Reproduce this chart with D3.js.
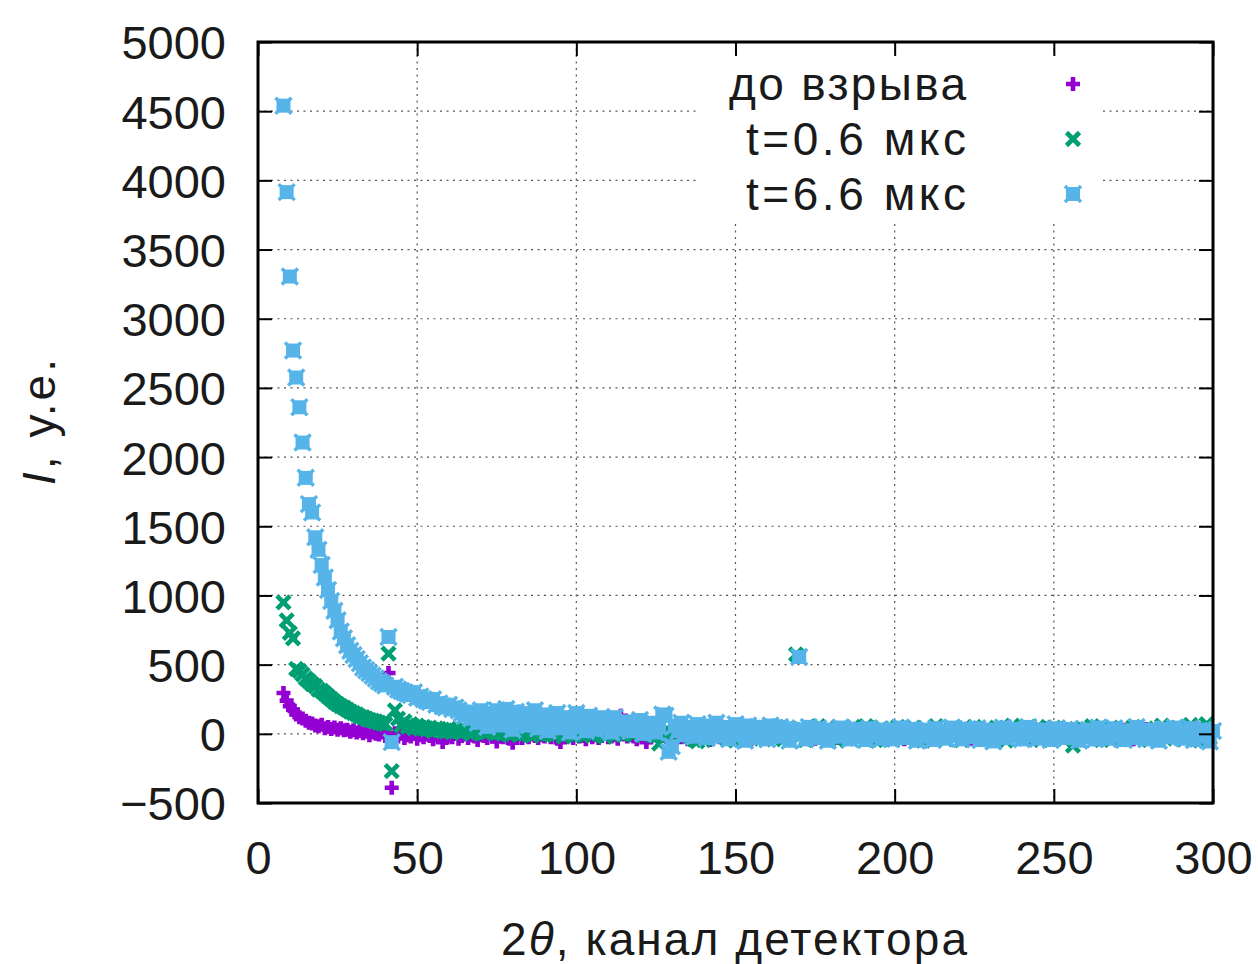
<!DOCTYPE html>
<html>
<head>
<meta charset="utf-8">
<script src="https://cdn.jsdelivr.net/npm/d3@7"></script>
<style>
  body { margin: 0; background: #fff; }
  svg text { font-family: "Liberation Sans", Arial, sans-serif; fill: #1a1a1a; }
</style>
</head>
<body>
<svg id="chart" width="1258" height="964"></svg>
<script>
const MARGIN = { top: 42, right: 45, bottom: 161, left: 258 };
const WIDTH = 1258;
const HEIGHT = 964;

// first detector channel of every series, next values go one channel up
const firstChannel = 8;

const xTicks = [0, 50, 100, 150, 200, 250, 300];
const yTicks = [-500, 0, 500, 1000, 1500, 2000, 2500, 3000, 3500, 4000, 4500, 5000];

const seriesNames = ["до взрыва", "t=0.6 мкс", "t=6.6 мкс"];
const seriesColors = ["#9400d3", "#009e73", "#56b4e9"];

// до взрыва (channels 8..299)
const beforeBlast = [
  295, 240, 200, 175, 140, 120, 110, 95, 80, 75,
  60, 55, 65, 40, 50, 35, 45, 30, 40, 25,
  30, 15, 25, 10, 20, 5, 15, -10, 10, 0,
  -5, 10, -15, 440, -390, 5, -20, 0, -30, -10,
  -20, 5, -35, -10, -25, 0, -15, -40, -5, -20,
  -60, -30, -10, -25, 0, -35, -15, -5, -30, -10,
  -20, -45, -5, -15, -30, 0, -20, -55, -10, -25,
  -5, -35, -65, -20, 0, -30, -10, -25, -5, -15,
  -30, -10, -20, 0, -25, -5, -35, -60, -15, -20,
  -10, -30, 0, -20, -15, -40, -5, -25, -10, -30,
  -15, 0, -25, -20, -10, -35, 130, -5, -20, -10,
  -20, -40, -5, -15, -60, -25, -10, 0, -30, -15,
  -5, -20, -35, -10, 0, -25, -15, -40, -5, -20,
  -10, -30, 0, -20, -45, -5, -15, -25, 10, -10,
  -30, 20, 0, -20, 30, -10, 10, -35, 15, -5,
  25, -15, 5, -30, 20, 0, -25, 10, -10, 35,
  -5, 10, 15, -20, 30, -10, 0, -35, 20, 5,
  -15, 25, -5, 10, -30, 40, 0, -20, 15, -10,
  30, -5, 20, -25, 5, 45, -15, 10, -35, 0,
  20, -10, 35, -20, 5, -40, 15, 0, -15, 30,
  -5, 10, -30, 25, 0, -20, 40, -10, 5, -25,
  15, -5, 30, -15, 0, 20, -35, 10, -10, 25,
  0, -20, 15, -40, 5, 30, -10, 20, -25, 0,
  35, -15, 10, -5, 25, -30, 0, 15, -20, 40,
  -10, 5, 20, -25, 10, -5, 30, -15, 0, -35,
  15, 25, -10, 5, -20, 35, 0, -30, 10, 20,
  -5, -25, 15, 0, 30, -15, 5, -40, 20, 10,
  -20, 35, 0, -10, 25, -30, 5, 15, -15, 40,
  -5, 20, -25, 10, 30, -10, 0, 45, -20, 15,
  -30, 5
];

// t=0.6 мкс
const t06 = [
  950, 820, 730, 690, 470, 455, 430, 400, 380, 360,
  345, 320, 310, 290, 270, 250, 230, 215, 200, 190,
  175, 160, 150, 140, 125, 120, 110, 100, 95, 90,
  80, 75, 70, 580, -270, 170, 110, 60, 90, 50,
  70, 40, 60, 35, 50, 30, 45, 20, 40, 25,
  30, 15, 35, 10, 25, 20, 5, 30, 15, 0,
  20, 10, 25, 5, 15, 60, 20, 5, 10, 0,
  15, -10, 5, 20, -5, 10, 0, 25, -15, 5,
  10, -5, 20, 0, 15, -10, 5, 25, -20, 10,
  0, 15, -5, 10, -15, 20, 5, -10, 15, 0,
  10, -20, 5, 20, -5, 15, 0, -10, 25, 5,
  -5, 15, 30, -10, 10, 0, 20, -15, -70, 5,
  -20, 10, -35, 15, 0, -25, 20, -10, 5, -40,
  -55, 10, -45, 20, -15, 5, -30, 25, -10, 0,
  30, -20, -50, 10, 40, -15, 15, -35, 45, 0,
  -25, 35, -10, 20, -40, 50, 5, -30, 25, -15,
  10, 575, -20, 30, -45, 15, 40, -10, 55, -30,
  0, 45, -25, 20, -50, 10, 35, -15, 5, 50,
  -35, 15, -5, 55, -20, 30, -45, 5, 40, -10,
  25, -40, 10, 50, -15, 35, -30, 0, 45, -25,
  15, -50, 30, 5, -20, 55, -10, 25, -40, 10,
  40, -15, 0, -45, 30, 15, -30, 50, -5, 20,
  -40, 35, 5, -20, 45, -10, 25, -50, 10, 60,
  -25, 15, 40, -35, 5, 30, -15, 50, -45, 0,
  25, -30, 45, -10, 15, -40, 35, 5, -85, 20,
  -20, 40, 10, -35, 55, -5, 20, -45, 30, 0,
  45, -25, 15, -40, 35, 5, -15, 50, -30, 20,
  -10, 40, -45, 25, 5, -20, 60, -35, 15, 30,
  -25, 45, 0, -40, 20, 65, -15, 35, -50, 10,
  70, -30
];

// t=6.6 мкс
const t66 = [
  4540, 3915, 3305, 2770, 2575, 2360, 2105, 1850, 1660, 1600,
  1420, 1330, 1220, 1130, 1040, 960, 890, 820, 740, 690,
  640, 600, 570, 540, 510, 480, 460, 440, 420, 400,
  380, 365, 350, 700, -60, 340, 320, 310, 300, 290,
  280, 300, 260, 270, 250, 240, 230, 250, 210, 220,
  200, 190, 210, 180, 190, 170, 150, 130, 160, 110,
  140, 80, 170, 120, 50, 150, 100, 170, 60, 120,
  180, 80, 30, 160, 110, 70, 150, 60, 100, 170,
  40, 90, 140, 20, 110, 80, 150, 40, 120, 70,
  10, 90, 150, 50, 80, 20, 130, 60, 30, 90,
  120, 40, 80, 10, 120, 60, 30, 50, 90, 20,
  70, 40, 100, 0, 60, 30, 80, 10, 50, 140,
  130, -130, -90, 60, 20, 80, -10, 50, 30, -20,
  70, 10, 40, -30, 60, 0, 80, -20, 30, 50,
  -40, 20, 70, -10, 40, -50, 60, 10, -30, 50,
  0, 30, -40, 60, 10, -20, 50, -10, 40, -50,
  20, 0, 555, 30, -40, 50, 10, -30, 40, -10,
  20, -50, 30, 10, -20, 45, -10, 25, -40, 5,
  35, -25, 15, -45, 40, 0, -15, 30, -35, 20,
  5, -40, 25, -10, 45, -30, 10, -5, 35, -50,
  15, 30, -20, 5, -45, 40, -10, 20, -35, 0,
  45, -15, 25, -40, 10, 35, -25, 0, 40, -45,
  15, -10, 30, -55, 20, -5, 45, -30, 10, -20,
  35, 0, -40, 25, 50, -15, 10, -35, 30, -5,
  20, -45, 15, 40, -20, 5, -30, 35, -10, 20,
  -50, 10, -25, 30, 0, -40, 45, -15, 20, -35,
  5, 40, -20, 10, -45, 25, 0, -30, 50, -10,
  15, -40, 30, -5, 20, -50, 10, 35, -25, 0,
  45, -15, 25, -35, 5, 40, -45, 15, -20, 30,
  -10, -55, 20
];

const boundsWidth = WIDTH - MARGIN.left - MARGIN.right;
const boundsHeight = HEIGHT - MARGIN.top - MARGIN.bottom;

const xScale = d3.scaleLinear().domain([0, 300]).range([0, boundsWidth]);
const yScale = d3.scaleLinear().domain([-500, 5000]).range([boundsHeight, 0]);

const svg = d3.select("#chart");
const bounds = svg
  .append("g")
  .attr("transform", `translate(${MARGIN.left},${MARGIN.top})`);

// grid (dotted)
const grid = bounds.append("g").attr("class", "grid");
grid
  .selectAll(".gx")
  .data(xTicks.slice(1, -1))
  .join("line")
  .attr("x1", (d) => xScale(d))
  .attr("x2", (d) => xScale(d))
  .attr("y1", 0)
  .attr("y2", boundsHeight);
grid
  .selectAll(".gy")
  .data(yTicks.slice(1, -1))
  .join("line")
  .attr("x1", 0)
  .attr("x2", boundsWidth)
  .attr("y1", (d) => yScale(d))
  .attr("y2", (d) => yScale(d));
grid
  .selectAll("line")
  .attr("stroke", "#555")
  .attr("stroke-width", 1.2)
  .attr("stroke-dasharray", "2,4.5");

// opaque key box hides the grid behind the legend
bounds
  .append("rect")
  .attr("x", 442)
  .attr("y", 10)
  .attr("width", 400)
  .attr("height", 172)
  .attr("fill", "#fff");

// point markers, gnuplot-like
const drawPlus = (g, color) => {
  g.append("path")
    .attr("d", "M-7,0H7M0,-7V7")
    .attr("stroke", color)
    .attr("stroke-width", 4.6)
    .attr("fill", "none");
};
const drawCross = (g, color) => {
  g.append("path")
    .attr("d", "M-6.5,-6.5L6.5,6.5M-6.5,6.5L6.5,-6.5")
    .attr("stroke", color)
    .attr("stroke-width", 4.6)
    .attr("fill", "none");
};
const drawBox = (g, color) => {
  g.append("rect")
    .attr("x", -7)
    .attr("y", -7)
    .attr("width", 14)
    .attr("height", 14)
    .attr("fill", color);
  g.append("path")
    .attr("d", "M-8,-8L8,8M-8,8L8,-8")
    .attr("stroke", color)
    .attr("stroke-width", 3.5)
    .attr("fill", "none");
};
const markers = [drawPlus, drawCross, drawBox];

// Dots ------------------------------------
const allSeries = [beforeBlast, t06, t66];
allSeries.forEach((values, s) => {
  const layer = bounds.append("g").attr("class", "series-" + s);
  layer
    .selectAll("g")
    .data(values)
    .join("g")
    .attr(
      "transform",
      (d, i) => `translate(${xScale(firstChannel + i)},${yScale(d)})`
    )
    .each(function () {
      markers[s](d3.select(this), seriesColors[s]);
    });
});

// Axes ------------------------------------
const fmt = (d) => (d < 0 ? "\u2212" + Math.abs(d) : String(d));

const yAxis = bounds
  .append("g")
  .call(
    d3.axisLeft(yScale).tickValues(yTicks).tickSize(-14).tickPadding(32).tickFormat(fmt)
  );
bounds
  .append("g")
  .attr("transform", `translate(${boundsWidth},0)`)
  .call(d3.axisRight(yScale).tickValues(yTicks).tickSize(-14).tickFormat(""));
const xAxis = bounds
  .append("g")
  .attr("transform", `translate(0,${boundsHeight})`)
  .call(
    d3.axisBottom(xScale).tickValues(xTicks).tickSize(-14).tickPadding(38).tickFormat(fmt)
  );
bounds
  .append("g")
  .call(d3.axisTop(xScale).tickValues(xTicks).tickSize(-14).tickFormat(""));

bounds.selectAll(".domain").remove();
bounds.selectAll(".tick line").attr("stroke", "#000").attr("stroke-width", 2);
bounds
  .selectAll(".tick text")
  .style("font-size", "47px")
  .style("font-family", '"Liberation Sans", Arial, sans-serif')
  .attr("fill", "#1a1a1a");
yAxis.selectAll(".tick text").attr("dy", "0.36em");

// border
bounds
  .append("rect")
  .attr("width", boundsWidth)
  .attr("height", boundsHeight)
  .attr("fill", "none")
  .attr("stroke", "#000")
  .attr("stroke-width", 3);

// axis titles
const yTitle = svg
  .append("text")
  .attr("transform", `translate(55,${MARGIN.top + 380}) rotate(-90)`)
  .attr("text-anchor", "middle")
  .attr("textLength", 126)
  .attr("lengthAdjust", "spacing")
  .style("font-size", "46px");
yTitle.append("tspan").style("font-style", "italic").text("I");
yTitle.append("tspan").text(", у.е.");

const xTitle = svg
  .append("text")
  .attr("x", MARGIN.left + 476)
  .attr("y", 955)
  .attr("text-anchor", "middle")
  .attr("textLength", 466)
  .attr("lengthAdjust", "spacing")
  .style("font-size", "46px");
xTitle.append("tspan").text("2");
xTitle.append("tspan").style("font-style", "italic").text("θ");
xTitle.append("tspan").text(", канал детектора");

// Legend ----------------------------------
const legendWidths = [237, 220, 220];
const legend = bounds.append("g").attr("class", "legend");
seriesNames.forEach((name, s) => {
  const rowY = 42 + s * 55;
  legend
    .append("text")
    .attr("x", 708)
    .attr("y", rowY)
    .attr("dy", "0.34em")
    .attr("text-anchor", "end")
    .attr("textLength", legendWidths[s])
    .attr("lengthAdjust", "spacing")
    .style("font-size", "46px")
    .text(name);
  const m = legend.append("g").attr("transform", `translate(815,${rowY})`);
  markers[s](m, seriesColors[s]);
});
</script>
</body>
</html>
